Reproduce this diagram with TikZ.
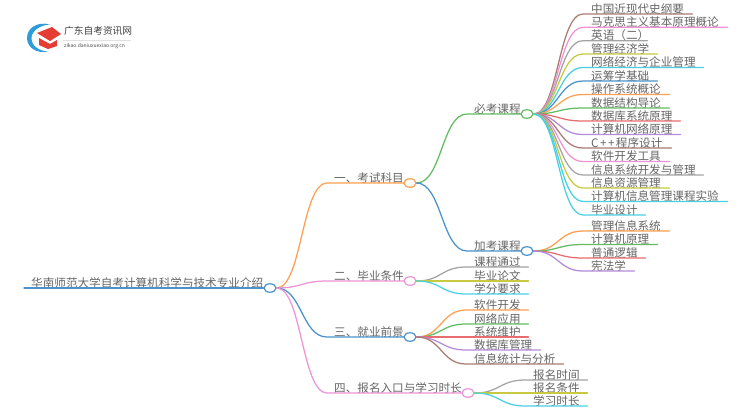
\documentclass[tikz,border=0pt]{standalone}
\usepackage{fontspec}
\setmainfont{Noto Sans CJK SC}
\usetikzlibrary{shapes.geometric,calc}
\definecolor{cOrange}{HTML}{FF9F4F}
\definecolor{cGreen}{HTML}{62BD62}
\definecolor{cRed}{HTML}{E96C6E}
\definecolor{cPurple}{HTML}{B48BD9}
\definecolor{cBrown}{HTML}{A97C72}
\definecolor{cPink}{HTML}{EE93D6}
\definecolor{cGray}{HTML}{A3A3A3}
\definecolor{cOlive}{HTML}{C9C93F}
\definecolor{cCyan}{HTML}{48D0E2}
\definecolor{cBlue}{HTML}{4A92CC}
\definecolor{cText}{HTML}{666666}
\definecolor{cLogoRed}{HTML}{E53D33}
\definecolor{cLogoBlue}{HTML}{2F9BD8}
\tikzset{
  lab/.style={anchor=south west,inner xsep=0pt,inner ysep=0pt,text=cText,font=\fontsize{11.6pt}{12pt}\selectfont,text height=10.5pt,text depth=0.8pt},
  hub/.style={ellipse,draw=#1,fill=white,line width=1.2pt,minimum width=12pt,minimum height=8.5pt,inner sep=0pt},
  wire/.style={line width=1.25pt,line cap=round},
}
% #1 name, #2 parent, #3 x-start, #4 y, #5 x-end, #6 colour, #7 padding, #8 text
\newcommand{\leafnode}[8]{%
  \pgfmathsetlengthmacro{\boxw}{(#5-#3)*1pt}%
  \node[lab] (#1) at (#3,#4) {\makebox[\boxw][l]{\hspace{#7pt}#8}};
  \draw[wire,#6] (#2.east) .. controls ($(#2.east)!0.5!(#1.south west |- #2.east)$) and ($(#1.south west)!0.5!(#2.east |- #1.south west)$) .. (#1.south west) -- (#1.south east);
}
\begin{document}
\begin{tikzpicture}[x=1pt,y=-1pt]
\useasboundingbox (0,0) rectangle (750,410);
\fill[white] (0,0) rectangle (750,410);
% logo
\fill[cLogoBlue] (50,24.5) .. controls (36,21) and (27,29) .. (27,38) .. controls (27,47) and (36,54) .. (48,51.5) .. controls (39,51) and (31.5,46) .. (31.5,38) .. controls (31.5,31) and (40,25) .. (50,24.5) -- cycle;
\fill[cLogoRed] (37,33) -- (52,27) -- (61,34) -- (50,41) -- cycle;
\fill[cLogoRed] (39,38) -- (50,44) -- (57,40) -- (57,46) -- (48,49) -- (39,45) -- cycle;
\node[anchor=west,inner sep=0pt,font=\fontsize{9.7pt}{10pt}\selectfont,text=black!75] (logotitle) at (64,31) {广东自考资讯网};
\draw[black!12,line width=0.5pt] (63,40) -- (131,40);
\node[anchor=west,inner sep=0pt,font=\fontsize{5pt}{6pt}\selectfont,text=black!70] (logosub) at (64,46.5) {zikao.daniuxuexiao.org.cn};
% hubs
\node[hub=cBlue] (root) at (270,288) {};
\node[hub=cOrange] (h1) at (410,183) {};
\node[hub=cPink] (h2) at (410,281) {};
\node[hub=cBlue] (h3) at (410,337) {};
\node[hub=cPink] (h4) at (468,393) {};
\node[hub=cGreen] (b1) at (527,114) {};
\node[hub=cBlue] (b2) at (527,251) {};
% root
\node[lab] (main) at (24,288) {\makebox[240pt][l]{\hspace{7pt}华南师范大学自考计算机科学与技术专业介绍}};
\draw[wire,cBlue] (main.south west) -- (root.west);
% first level
\leafnode{t1}{root}{327}{183}{404}{cOrange}{7}{一、考试科目}
\leafnode{t2}{root}{327}{281}{404}{cPink}{7}{二、毕业条件}
\leafnode{t3}{root}{327}{337}{404}{cBlue}{7}{三、就业前景}
\leafnode{t4}{root}{327}{393}{462}{cPink}{7}{四、报名入口与学习时长}
% second level
\leafnode{m1}{h1}{467}{114}{521}{cGreen}{7}{必考课程}
\leafnode{m2}{h1}{467}{251}{521}{cBlue}{7}{加考课程}
% required
\leafnode{a1}{b1}{583}{14}{692}{cBrown}{8}{中国近现代史纲要}
\leafnode{a2}{b1}{583}{27.3}{727}{cPink}{8}{马克思主义基本原理概论}
\leafnode{a3}{b1}{583}{40.7}{647}{cGray}{8}{英语（二）}
\leafnode{a4}{b1}{583}{54}{657}{cOlive}{8}{管理经济学}
\leafnode{a5}{b1}{583}{67.5}{703}{cCyan}{8}{网络经济与企业管理}
\leafnode{a6}{b1}{583}{81}{657}{cBlue}{8}{运筹学基础}
\leafnode{a7}{b1}{583}{94.5}{669}{cOrange}{8}{操作系统概论}
\leafnode{a8}{b1}{583}{108}{669}{cGreen}{8}{数据结构导论}
\leafnode{a9}{b1}{583}{121}{680}{cRed}{8}{数据库系统原理}
\leafnode{a10}{b1}{583}{134.5}{680}{cPurple}{8}{计算机网络原理}
\leafnode{a11}{b1}{583}{148}{671}{cBrown}{8}{C\kern1.5pt+\kern1.5pt+\kern1.5pt程序设计}
\leafnode{a12}{b1}{583}{161.5}{669}{cPink}{8}{软件开发工具}
\leafnode{a13}{b1}{583}{175}{703}{cGray}{8}{信息系统开发与管理}
\leafnode{a14}{b1}{583}{188}{669}{cOlive}{8}{信息资源管理}
\leafnode{a15}{b1}{583}{201.5}{727}{cCyan}{8}{计算机信息管理课程实验}
\leafnode{a16}{b1}{583}{215}{645}{cCyan}{8}{毕业设计}
% additional
\leafnode{c1}{b2}{583}{231}{669}{cOrange}{8}{管理信息系统}
\leafnode{c2}{b2}{583}{244.5}{657}{cGreen}{8}{计算机原理}
\leafnode{c3}{b2}{583}{258}{645}{cRed}{8}{普通逻辑}
\leafnode{c4}{b2}{583}{271}{634}{cPurple}{8}{宪法学}
% graduation
\leafnode{d1}{h2}{466}{267}{528}{cGray}{8}{课程通过}
\leafnode{d2}{h2}{466}{281}{528}{cOlive}{8}{毕业论文}
\leafnode{d3}{h2}{466}{294}{528}{cCyan}{8}{学分要求}
% prospects
\leafnode{e1}{h3}{466}{310}{528}{cOrange}{8}{软件开发}
\leafnode{e2}{h3}{466}{324}{528}{cGreen}{8}{网络应用}
\leafnode{e3}{h3}{466}{337}{528}{cRed}{8}{系统维护}
\leafnode{e4}{h3}{466}{350}{540}{cPurple}{8}{数据库管理}
\leafnode{e5}{h3}{466}{364}{563}{cBrown}{8}{信息统计与分析}
% registration
\leafnode{f1}{h4}{525}{380}{587}{cGray}{8}{报名时间}
\leafnode{f2}{h4}{525}{393}{587}{cOlive}{8}{报名条件}
\leafnode{f3}{h4}{525}{406}{587}{cCyan}{8}{学习时长}
\end{tikzpicture}
\end{document}
